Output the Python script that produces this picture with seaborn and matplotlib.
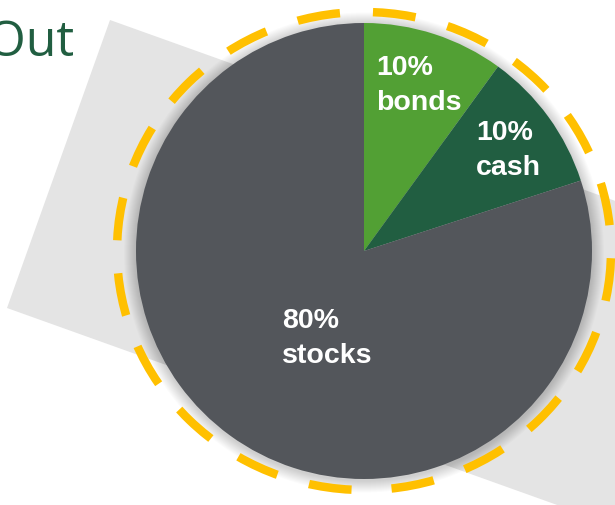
import numpy as np
import matplotlib
matplotlib.use("Agg")
import matplotlib.pyplot as plt
from matplotlib.patches import Circle, Ellipse, Polygon
import seaborn as sns

# Portfolio allocation
categories = ["bonds", "cash", "stocks"]
shares = [10, 10, 80]
slice_colors = ["#52A034", "#215E41", "#53565B"]

sns.set_theme(style="white")
palette = sns.color_palette(slice_colors)

W, H = 615, 505
fig = plt.figure(figsize=(W / 100, H / 100), dpi=100)
ax = fig.add_axes([0, 0, 1, 1])

cx, cy, r = 364, 251, 228

# tilted light-gray backdrop band
ang = np.deg2rad(19.7)
u = np.array([np.cos(ang), np.sin(ang)])
bl = np.array([7, 308])
tl = np.array([110, 20])
L = 900
band = Polygon([tl, tl + L * u, bl + L * u, bl], closed=True,
               facecolor="#E4E4E4", edgecolor="none", zorder=0)
ax.add_patch(band)

# soft glow behind the pie
for k in range(12, 0, -1):
    ax.add_patch(Circle((cx, cy + 1.5), r + k, facecolor="black",
                        edgecolor="none", alpha=0.014, zorder=1))

wedges, _ = ax.pie(shares, colors=palette, startangle=270, counterclock=True,
                   center=(cx, cy), radius=r,
                   wedgeprops=dict(linewidth=0, zorder=2))
for w in wedges:
    w.set_zorder(2)

# dashed highlight ring
ax.add_patch(Ellipse((cx, cy), width=494, height=478, angle=180, fill=False,
                     edgecolor="#FFC000", linewidth=6.1,
                     linestyle=(7.5, (5.07, 3.9)), zorder=3))

# slice labels: percentage line + name line
label_pos = [(376, 75), (476, 140), (282, 328)]
line_gap = 35
for (x, y), pct, name in zip(label_pos, shares, categories):
    ax.text(x, y, f"{pct}%", color="white", fontsize=20.5, fontweight="bold",
            family="Liberation Sans", ha="left", va="baseline", zorder=4)
    ax.text(x, y + line_gap, name, color="white", fontsize=20.5,
            fontweight="bold", family="Liberation Sans", ha="left",
            va="baseline", zorder=4)

ax.text(74, 56, "Out", color="#215E41", fontsize=36, family="Open Sans",
        ha="right", va="baseline", zorder=4)

ax.set_xlim(0, W)
ax.set_ylim(H, 0)
ax.set_aspect("auto")
ax.axis("off")

fig.savefig("out.png", dpi=100, facecolor="white")
